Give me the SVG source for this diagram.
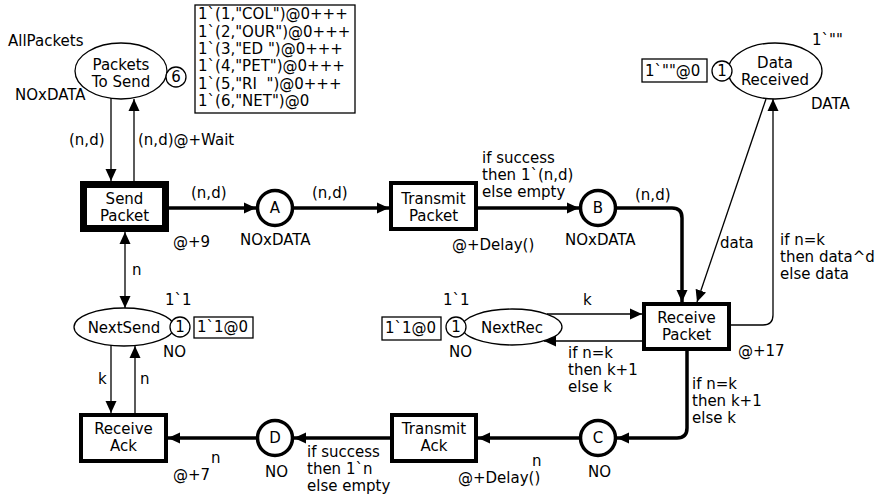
<svg xmlns="http://www.w3.org/2000/svg" width="878" height="494" viewBox="0 0 878 494">
<defs>
<marker id="ah" markerUnits="userSpaceOnUse" markerWidth="14" markerHeight="12" refX="12" refY="6" orient="auto-start-reverse" viewBox="0 0 14 12"><path d="M0,0.5 L12,6 L0,11.5 z" fill="#000"/></marker>
</defs>
<style>
text{font-family:"DejaVu Sans",Verdana,sans-serif;font-size:15px;fill:#000}
.c{text-anchor:middle}
.pre{white-space:pre}
.thin{fill:none;stroke:#000;stroke-width:1.3}
.thick{fill:none;stroke:#000;stroke-width:3.5}
.pl{fill:#fff;stroke:#000;stroke-width:1.3}
.plt{fill:#fff;stroke:#000;stroke-width:3.5}
.tr{fill:#fff;stroke:#000;stroke-width:4}
.box{fill:#fff;stroke:#000;stroke-width:1.3}
.tok{fill:#fff;stroke:#000;stroke-width:1.3}
</style>
<rect width="878" height="494" fill="#fff"/>

<g id="connectors">
<line class="thin" x1="111" y1="98" x2="111" y2="181" marker-end="url(#ah)"/>
<line class="thin" x1="134" y1="181" x2="134" y2="99" marker-end="url(#ah)"/>
<line class="thick" x1="169" y1="208" x2="256" y2="208" marker-end="url(#ah)"/>
<line class="thick" x1="294" y1="208" x2="389" y2="208" marker-end="url(#ah)"/>
<line class="thick" x1="478" y1="208" x2="579" y2="208" marker-end="url(#ah)"/>
<path class="thick" d="M617,208 H672 Q682,208 682,218 V302" marker-end="url(#ah)"/>
<line class="thin" x1="766" y1="99" x2="697" y2="302" marker-end="url(#ah)"/>
<path class="thin" d="M731,325 H763 Q773,325 773,315 V99" marker-end="url(#ah)"/>
<line class="thin" x1="547" y1="314" x2="642" y2="314" marker-end="url(#ah)"/>
<line class="thin" x1="642" y1="341" x2="544" y2="341" marker-end="url(#ah)"/>
<path class="thick" d="M687,351 V428 Q687,438 677,438 H617" marker-end="url(#ah)"/>
<line class="thick" x1="579" y1="438" x2="478" y2="438" marker-end="url(#ah)"/>
<line class="thick" x1="390" y1="438" x2="294" y2="438" marker-end="url(#ah)"/>
<line class="thick" x1="256" y1="438" x2="168" y2="438" marker-end="url(#ah)"/>
<line class="thin" x1="125" y1="232" x2="125" y2="308" marker-start="url(#ah)" marker-end="url(#ah)"/>
<line class="thin" x1="111" y1="345" x2="111" y2="413" marker-end="url(#ah)"/>
<line class="thin" x1="135" y1="413" x2="135" y2="346" marker-end="url(#ah)"/>

<text x="69" y="145">(n,d)</text>
<text x="138" y="145">(n,d)@+Wait</text>
<text x="191" y="198">(n,d)</text>
<text x="312" y="198">(n,d)</text>
<text x="482" y="163">if success</text>
<text x="482" y="180">then 1`(n,d)</text>
<text x="482" y="197">else empty</text>
<text x="635" y="200">(n,d)</text>
<text x="720" y="248">data</text>
<text x="780" y="245">if n=k</text>
<text x="780" y="262">then data^d</text>
<text x="780" y="279">else data</text>
<text x="583" y="305">k</text>
<text x="568" y="358">if n=k</text>
<text x="568" y="375">then k+1</text>
<text x="568" y="392">else k</text>
<text x="692" y="389">if n=k</text>
<text x="692" y="406">then k+1</text>
<text x="692" y="423">else k</text>
<text x="532" y="466">n</text>
<text x="307" y="457">if success</text>
<text x="307" y="474">then 1`n</text>
<text x="307" y="491">else empty</text>
<text x="211" y="463">n</text>
<text x="132" y="275">n</text>
<text x="98" y="384">k</text>
<text x="140" y="384">n</text>
</g>

<g id="PacketsToSend">
<ellipse class="pl" cx="121" cy="71" rx="46" ry="28"/>
<text class="c" x="121" y="70">Packets</text>
<text class="c" x="121" y="87">To Send</text>
<circle class="tok" cx="176" cy="77" r="10"/>
<text class="c" x="176" y="82">6</text>
<text x="8" y="46">AllPackets</text>
<text x="15" y="100">NOxDATA</text>
<rect class="box" x="195" y="5" width="160" height="108"/>
<text class="pre" x="198" y="19">1`(1,"COL")@0+++</text>
<text class="pre" x="198" y="36.5">1`(2,"OUR")@0+++</text>
<text class="pre" x="198" y="54">1`(3,"ED ")@0+++</text>
<text class="pre" x="198" y="71">1`(4,"PET")@0+++</text>
<text class="pre" x="198" y="88.5">1`(5,"RI  ")@0+++</text>
<text class="pre" x="198" y="106">1`(6,"NET")@0</text>
</g>

<g id="SendPacket">
<rect x="83.5" y="184.5" width="82" height="44" fill="#fff" stroke="#000" stroke-width="7"/>
<text class="c" x="124.5" y="204">Send</text>
<text class="c" x="124.5" y="221">Packet</text>
<text x="173" y="247">@+9</text>
</g>

<g id="A">
<circle class="plt" cx="275" cy="208" r="17.5"/>
<text class="c" x="275" y="213">A</text>
<text x="240" y="245">NOxDATA</text>
</g>

<g id="TransmitPacket">
<rect class="tr" x="391" y="183" width="85" height="46"/>
<text class="c" x="433.5" y="204">Transmit</text>
<text class="c" x="433.5" y="221">Packet</text>
<text x="452" y="250">@+Delay()</text>
</g>

<g id="B">
<circle class="plt" cx="598" cy="208" r="17.5"/>
<text class="c" x="598" y="213">B</text>
<text x="565" y="245">NOxDATA</text>
</g>

<g id="DataReceived">
<ellipse class="pl" cx="775" cy="71" rx="47" ry="28"/>
<text class="c" x="775" y="68">Data</text>
<text class="c" x="775" y="85">Received</text>
<circle class="tok" cx="722" cy="71" r="10"/>
<text class="c" x="722" y="76">1</text>
<rect class="box" x="642" y="59" width="65" height="23"/>
<text x="645" y="76">1`""@0</text>
<text x="812" y="45">1`""</text>
<text x="811" y="109">DATA</text>
</g>

<g id="ReceivePacket">
<rect class="tr" x="644" y="304" width="85" height="45"/>
<text class="c" x="686.5" y="323">Receive</text>
<text class="c" x="686.5" y="340">Packet</text>
<text x="738" y="356">@+17</text>
</g>

<g id="NextRec">
<ellipse class="pl" cx="512" cy="327" rx="50" ry="18"/>
<text class="c" x="512" y="333">NextRec</text>
<circle class="tok" cx="456" cy="327" r="10"/>
<text class="c" x="456" y="332">1</text>
<rect class="box" x="382" y="317" width="59" height="23"/>
<text x="385" y="333">1`1@0</text>
<text x="443" y="305">1`1</text>
<text x="449" y="357">NO</text>
</g>

<g id="C">
<circle class="plt" cx="598" cy="438" r="17.5"/>
<text class="c" x="598" y="443">C</text>
<text x="588" y="477">NO</text>
</g>

<g id="TransmitAck">
<rect class="tr" x="392" y="415" width="84" height="46"/>
<text class="c" x="434" y="434">Transmit</text>
<text class="c" x="434" y="451">Ack</text>
<text x="458" y="483">@+Delay()</text>
</g>

<g id="D">
<circle class="plt" cx="275" cy="438" r="17.5"/>
<text class="c" x="275" y="443">D</text>
<text x="265" y="477">NO</text>
</g>

<g id="ReceiveAck">
<rect class="tr" x="81" y="415" width="85" height="46"/>
<text class="c" x="123.5" y="434">Receive</text>
<text class="c" x="123.5" y="451">Ack</text>
<text x="173" y="480">@+7</text>
</g>

<g id="NextSend">
<ellipse class="pl" cx="124" cy="327" rx="50" ry="19"/>
<text class="c" x="124" y="333">NextSend</text>
<circle class="tok" cx="180" cy="327" r="10"/>
<text class="c" x="180" y="332">1</text>
<rect class="box" x="194" y="317" width="59" height="21"/>
<text x="197" y="332">1`1@0</text>
<text x="165" y="305">1`1</text>
<text x="163" y="357">NO</text>
</g>
</svg>
